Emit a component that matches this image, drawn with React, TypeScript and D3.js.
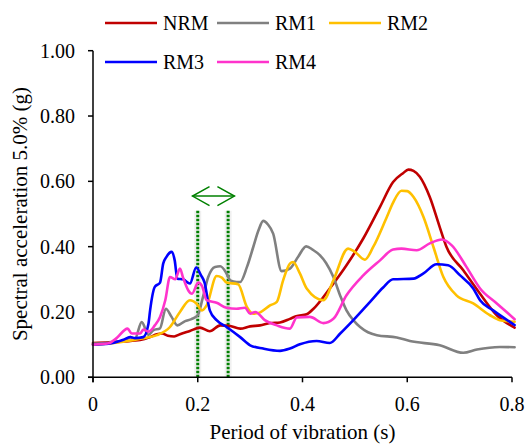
import React from 'react';
import * as d3 from 'd3';

type Pt = [number, number];

const seriesNames = ['NRM', 'RM1', 'RM2', 'RM3', 'RM4'];
const seriesColors = ['#C00000', '#808080', '#FFC000', '#0000FF', '#FF33CC'];

const xTicks = [0, 0.2, 0.4, 0.6, 0.8];
const xTickLabels = ['0', '0.2', '0.4', '0.6', '0.8'];
const yTicks = [0, 0.2, 0.4, 0.6, 0.8, 1.0];
const yTickLabels = ['0.00', '0.20', '0.40', '0.60', '0.80', '1.00'];

const markerPeriods = [0.2, 0.258];
const markerTop = 0.51;
const arrowRange = [0.19, 0.27];
const arrowLevel = 0.555;

const NRM: Pt[] = [
  [0, 0.105], [0.03, 0.107], [0.06, 0.11], [0.09, 0.114], [0.109, 0.123], [0.122, 0.132],
  [0.132, 0.134], [0.143, 0.127], [0.155, 0.125], [0.166, 0.132], [0.185, 0.142], [0.204, 0.152],
  [0.223, 0.141], [0.243, 0.159], [0.262, 0.157], [0.281, 0.149], [0.3, 0.156], [0.319, 0.159],
  [0.338, 0.166], [0.357, 0.168], [0.376, 0.179], [0.388, 0.187], [0.408, 0.193], [0.421, 0.21],
  [0.452, 0.272], [0.484, 0.343], [0.516, 0.425], [0.548, 0.522], [0.573, 0.598], [0.592, 0.625],
  [0.602, 0.636], [0.612, 0.632], [0.624, 0.614], [0.643, 0.552], [0.662, 0.46], [0.675, 0.399],
  [0.707, 0.328], [0.739, 0.256], [0.771, 0.19], [0.805, 0.152],
];

const RM1: Pt[] = [
  [0, 0.103], [0.03, 0.106], [0.06, 0.112], [0.071, 0.123], [0.08, 0.118], [0.093, 0.169],
  [0.106, 0.13], [0.115, 0.144], [0.128, 0.15], [0.139, 0.21], [0.15, 0.185], [0.161, 0.159],
  [0.176, 0.172], [0.188, 0.178], [0.2, 0.19], [0.21, 0.246], [0.22, 0.307], [0.233, 0.338],
  [0.243, 0.34], [0.255, 0.318], [0.262, 0.297], [0.274, 0.292], [0.281, 0.292], [0.294, 0.338],
  [0.306, 0.399], [0.316, 0.45], [0.325, 0.479], [0.334, 0.468], [0.344, 0.44], [0.36, 0.325],
  [0.376, 0.333], [0.392, 0.37], [0.407, 0.401], [0.42, 0.39], [0.433, 0.374], [0.445, 0.35],
  [0.459, 0.307], [0.472, 0.25], [0.484, 0.205], [0.497, 0.175], [0.51, 0.154], [0.525, 0.138],
  [0.542, 0.129], [0.58, 0.122], [0.605, 0.111], [0.662, 0.098], [0.707, 0.075], [0.733, 0.085],
  [0.777, 0.093], [0.805, 0.092],
];

const RM2: Pt[] = [
  [0, 0.1], [0.04, 0.105], [0.07, 0.112], [0.09, 0.118], [0.122, 0.129], [0.147, 0.154],
  [0.166, 0.2], [0.185, 0.236], [0.198, 0.225], [0.208, 0.205], [0.217, 0.22], [0.236, 0.31],
  [0.246, 0.305], [0.255, 0.29], [0.277, 0.285], [0.294, 0.215], [0.306, 0.195], [0.318, 0.198],
  [0.338, 0.22], [0.351, 0.231], [0.363, 0.297], [0.376, 0.348], [0.382, 0.353], [0.395, 0.318],
  [0.408, 0.272], [0.44, 0.236], [0.459, 0.297], [0.487, 0.394], [0.5, 0.384], [0.519, 0.36],
  [0.535, 0.399], [0.561, 0.491], [0.573, 0.535], [0.589, 0.571], [0.6, 0.57], [0.612, 0.552],
  [0.631, 0.491], [0.65, 0.399], [0.669, 0.307], [0.694, 0.251], [0.726, 0.226], [0.758, 0.19],
  [0.777, 0.175], [0.805, 0.17],
];

const RM3: Pt[] = [
  [0, 0.1], [0.03, 0.103], [0.058, 0.115], [0.071, 0.123], [0.08, 0.12], [0.096, 0.123],
  [0.106, 0.165], [0.109, 0.205], [0.118, 0.277], [0.128, 0.29], [0.134, 0.348], [0.14, 0.368],
  [0.15, 0.384], [0.156, 0.358], [0.161, 0.302], [0.172, 0.3], [0.185, 0.287], [0.197, 0.336],
  [0.206, 0.313], [0.213, 0.29], [0.223, 0.205], [0.236, 0.175], [0.255, 0.154], [0.281, 0.123],
  [0.3, 0.098], [0.325, 0.088], [0.357, 0.081], [0.376, 0.088], [0.395, 0.101], [0.427, 0.111],
  [0.452, 0.105], [0.472, 0.134], [0.497, 0.175], [0.529, 0.231], [0.554, 0.275], [0.573, 0.3],
  [0.612, 0.302], [0.631, 0.318], [0.656, 0.346], [0.678, 0.343], [0.701, 0.312], [0.726, 0.272],
  [0.739, 0.236], [0.764, 0.205], [0.805, 0.16],
];

const RM4: Pt[] = [
  [0, 0.1], [0.03, 0.104], [0.045, 0.12], [0.066, 0.149], [0.074, 0.134], [0.09, 0.134],
  [0.096, 0.146], [0.106, 0.14], [0.118, 0.159], [0.128, 0.185], [0.138, 0.236], [0.147, 0.307],
  [0.157, 0.3], [0.166, 0.333], [0.172, 0.305], [0.182, 0.266], [0.189, 0.256], [0.201, 0.29],
  [0.208, 0.28], [0.217, 0.236], [0.236, 0.228], [0.255, 0.213], [0.274, 0.21], [0.29, 0.213],
  [0.3, 0.195], [0.31, 0.2], [0.328, 0.175], [0.351, 0.159], [0.376, 0.149], [0.389, 0.183],
  [0.414, 0.185], [0.44, 0.166], [0.459, 0.179], [0.484, 0.251], [0.516, 0.312], [0.548, 0.358],
  [0.573, 0.391], [0.589, 0.394], [0.618, 0.389], [0.643, 0.41], [0.666, 0.422], [0.685, 0.404],
  [0.713, 0.338], [0.739, 0.272], [0.771, 0.226], [0.805, 0.178],
];

const seriesData = [NRM, RM1, RM2, RM3, RM4];

const FONT = "'Liberation Serif', Tinos, 'Times New Roman', Times, 'DejaVu Serif', serif";

export default function App() {
  const W = 527, H = 445;
  const x = d3.scaleLinear().domain([0, 0.8]).range([93, 512]);
  const y = d3.scaleLinear().domain([0, 1]).range([377.3, 50.7]);
  const line = d3.line<Pt>().x(d => x(d[0])).y(d => y(d[1])).curve(d3.curveMonotoneX);

  const legendPos = [
    [105, 23], [217, 23], [329, 23], [105, 62], [217, 62],
  ];

  const ax1 = x(arrowRange[0]);
  const ax2 = x(arrowRange[1]);
  const ay = y(arrowLevel);
  const hx = 17, hy = 9.5;
  const txt = { fontFamily: FONT, fontSize: '20px', fill: '#000' } as React.CSSProperties;
  const title = { fontFamily: FONT, fontSize: '21px', fill: '#000' } as React.CSSProperties;

  return (
    <svg width={W} height={H} style={{ position: 'absolute', left: 0, top: 0, background: '#fff', fontFamily: FONT }}>
      {markerPeriods.map((p, i) => (
        <g key={'m' + i}>
          <line x1={x(p)} x2={x(p)} y1={y(markerTop)} y2={y(0)} stroke="#000" strokeOpacity={0.06} strokeWidth={7} />
          <line x1={x(p)} x2={x(p)} y1={y(markerTop)} y2={y(0)} stroke="#008000" strokeWidth={3} strokeDasharray="2.6,1.4" />
        </g>
      ))}
      <g stroke="#008000" strokeWidth={1.5} fill="none">
        <line x1={ax1} x2={ax2} y1={ay} y2={ay} />
        <polyline points={`${ax1 + hx},${ay - hy} ${ax1},${ay} ${ax1 + hx},${ay + hy}`} />
        <polyline points={`${ax2 - hx},${ay - hy} ${ax2},${ay} ${ax2 - hx},${ay + hy}`} />
      </g>
      {seriesData.map((d, i) => (
        <path key={seriesNames[i]} d={line(d) || ''} fill="none" stroke={seriesColors[i]}
          strokeWidth={2.6} strokeLinejoin="round" strokeLinecap="round" />
      ))}
      <g stroke="#000" strokeWidth={1.5}>
        <line x1={x(0)} x2={x(0)} y1={y(1)} y2={y(0) + 5} />
        <line x1={x(0) - 5} x2={x(0.8)} y1={y(0)} y2={y(0)} />
        {yTicks.map(t => (
          <line key={'yt' + t} x1={x(0) - 5} x2={x(0)} y1={y(t)} y2={y(t)} />
        ))}
        {xTicks.map(t => (
          <line key={'xt' + t} x1={x(t)} x2={x(t)} y1={y(0)} y2={y(0) + 5} />
        ))}
      </g>
      {yTicks.map((t, i) => (
        <text key={'yl' + t} x={75} y={y(t)} dy="0.35em" textAnchor="end" style={txt}>
          {yTickLabels[i]}
        </text>
      ))}
      {xTicks.map((t, i) => (
        <text key={'xl' + t} x={x(t)} y={411} textAnchor="middle" style={txt}>
          {xTickLabels[i]}
        </text>
      ))}
      <text x={(x(0) + x(0.8)) / 2} y={439} textAnchor="middle" style={title}>
        Period of vibration (s)
      </text>
      <text transform={`translate(27, ${(y(0) + y(1)) / 2}) rotate(-90)`} textAnchor="middle" style={title}>
        Spectral acceleration 5.0% (g)
      </text>
      {seriesNames.map((n, i) => (
        <g key={'lg' + n}>
          <line x1={legendPos[i][0]} x2={legendPos[i][0] + 52} y1={legendPos[i][1]} y2={legendPos[i][1]}
            stroke={seriesColors[i]} strokeWidth={2.6} />
          <text x={legendPos[i][0] + 58} y={legendPos[i][1]} dy="0.35em" style={txt}>{n}</text>
        </g>
      ))}
    </svg>
  );
}
